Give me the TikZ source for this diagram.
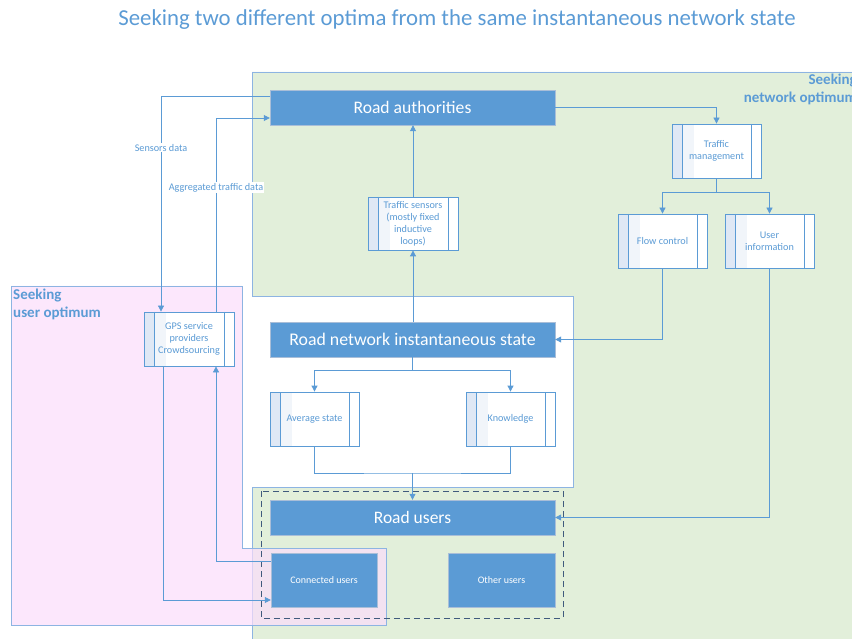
\documentclass[tikz,border=0pt]{standalone}
\usepackage{fontspec}
\setmainfont{Carlito}
\usetikzlibrary{arrows.meta}
\definecolor{linkblue}{HTML}{5B9BD5}
\definecolor{edgeblue}{HTML}{8DB4E2}
\definecolor{netgreen}{HTML}{E2EFDA}
\definecolor{userpink}{HTML}{FBDDFB}
\definecolor{dashblue}{HTML}{3F5A7D}
\definecolor{boxtint}{HTML}{DFE8F5}
\definecolor{blockedge}{HTML}{A9BED8}
\begin{document}
\begin{tikzpicture}[x=1pt, y=-1pt, >={Triangle[length=6pt,width=6pt]},
  block/.style={rectangle, fill=linkblue, draw=blockedge, text=white, inner sep=0pt},
  process/.style={rectangle, draw=linkblue, line width=0.8pt, fill=white,
    text=linkblue, inner sep=0pt, minimum width=89pt, minimum height=54pt, align=center,
    font=\fontsize{10.2}{12}\selectfont,
    path picture={\fill [boxtint] (path picture bounding box.north west) rectangle ([xshift=10pt]path picture bounding box.south west);
      \fill [boxtint!45] ([xshift=10pt]path picture bounding box.north west) rectangle ([xshift=22pt]path picture bounding box.south west);
      \draw [linkblue, line width=0.8pt]
      ([xshift=10pt]path picture bounding box.north west) -- ([xshift=10pt]path picture bounding box.south west)
      ([xshift=-10pt]path picture bounding box.north east) -- ([xshift=-10pt]path picture bounding box.south east);}},
  link/.style={draw=linkblue, line width=0.8pt},
  tag/.style={fill=white, text=linkblue, inner sep=1pt, font=\fontsize{10.2}{12}\selectfont},
  zone/.style={text=linkblue, font=\bfseries\fontsize{15}{18}\selectfont}]
\useasboundingbox (0,0) rectangle (852,639);
% the two optimisation zones
\draw [edgeblue, fill=netgreen, line width=0.8pt] (252,72) -- (860,72) -- (860,645) -- (252,645)
  -- (252,487) -- (573,487) -- (573,296) -- (252,296) -- cycle;
\draw [edgeblue, fill=userpink, fill opacity=0.7, line width=0.8pt] (11,286) -- (242,286) -- (242,548)
  -- (386,548) -- (386,625) -- (11,625) -- cycle;
\draw [dashblue, line width=0.8pt, dash pattern=on 6pt off 4pt] (261,491) rectangle (563,618);
\node at (457,19.5) (title) [text=linkblue, font=\fontsize{22.8}{26}\selectfont] {Seeking two different optima from the same instantaneous network state};
\node at (13,288.5) (userzone) [zone, anchor=north west, align=left, inner sep=0pt] {Seeking\\user optimum};
\node at (857,74) (netzone) [zone, anchor=north east, align=right, inner sep=0pt] {Seeking\\network optimum};
% boxes
\node at (412.5,107.5) (authorities) [block, minimum width=285pt, minimum height=35pt, font=\fontsize{17.6}{19}\selectfont] {Road authorities};
\node at (716.5,151)   (management) [process] {Traffic\\management};
\node at (662.5,241)   (flowctl)    [process] {Flow control};
\node at (769.5,241)   (userinfo)   [process] {User\\information};
\node at (413,223.5)   (sensors)    [process, minimum width=90pt, minimum height=53pt] {Traffic sensors\\(mostly fixed\\inductive\\loops)};
\node at (189,339)     (gps)        [process, minimum width=90pt] {GPS service\\providers\\Crowdsourcing};
\node at (412.5,339.5) (netstate) [block, minimum width=285pt, minimum height=35pt, font=\fontsize{17.8}{19}\selectfont] {Road network instantaneous state};
\node at (314.5,419)   (average)    [process] {Average state};
\node at (510.5,419)   (knowledge)  [process] {Knowledge};
\node at (412.5,517.5) (roadusers) [block, minimum width=285pt, minimum height=35pt, font=\fontsize{17.5}{19}\selectfont] {Road users};
\node at (324,580)     (connected) [block, minimum width=106pt, minimum height=54pt, font=\fontsize{10}{12}\selectfont] {Connected users};
\node at (501.5,580)   (others)    [block, minimum width=107pt, minimum height=54pt, font=\fontsize{10}{12}\selectfont] {Other users};
\coordinate (merge) at (412.5,473);
% connectors
\draw [link, ->] ([yshift=11.5pt]authorities.west) -| ([xshift=-28pt]gps.north) node[tag, pos=0.62]{Sensors data};
\draw [link, ->] ([xshift=27pt]gps.north) |- ([yshift=-10.5pt]authorities.west) node[tag, pos=0.32]{Aggregated traffic data};
\draw [link, ->] (authorities.east) -| (management.north);
\draw [link, ->] (management.south) -- ++(0,14) -| (flowctl.north);
\draw [link, ->] (management.south) -- ++(0,14) -| (userinfo.north);
\draw [link, ->] (sensors.north) -- (authorities.south -| sensors.north);
\draw [link, ->] (netstate.north -| sensors.south) -- (sensors.south);
\draw [link, ->] (flowctl.south) |- (netstate.east);
\draw [link, ->] (userinfo.south) |- (roadusers.east);
\draw [link, ->] (netstate.south) -- ++(0,13) -| (average.north);
\draw [link, ->] (netstate.south) -- ++(0,13) -| (knowledge.north);
\draw [link] (average.south) |- (merge) -| (knowledge.south);
\draw [link, ->] (merge) -- (roadusers.north);
\draw [link, ->] ([yshift=19pt]connected.west) -| ([xshift=27pt]gps.south);
\draw [link, ->] ([xshift=-26pt]gps.south) |- ([yshift=-20pt]connected.west);
\end{tikzpicture}
\end{document}
